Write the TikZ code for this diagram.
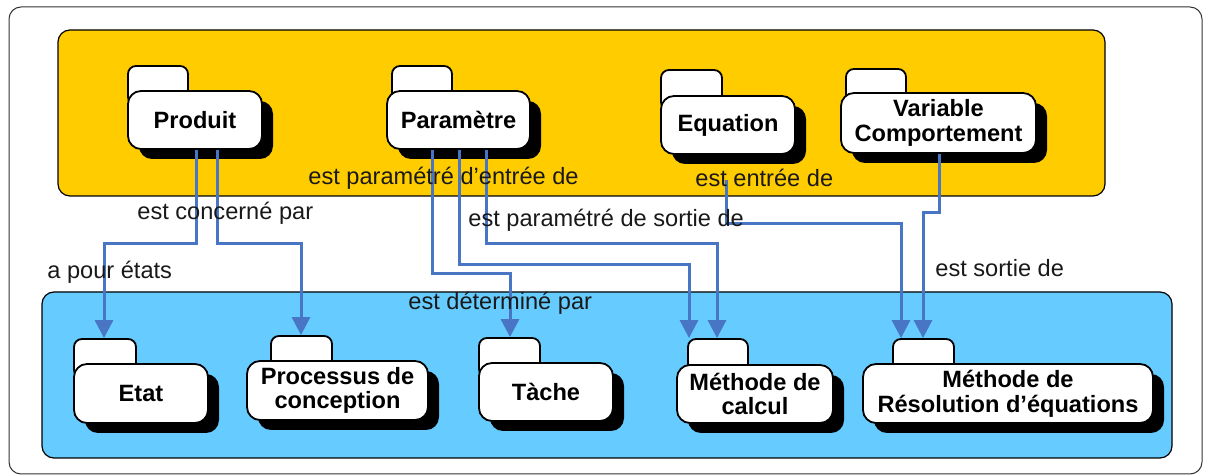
\documentclass[tikz,border=0pt]{standalone}
\usepackage{fontspec}
\setmainfont{Liberation Sans}
\usetikzlibrary{arrows.meta}
\definecolor{ybox}{RGB}{255,204,0}
\definecolor{bbox}{RGB}{102,204,255}
\definecolor{conn}{RGB}{72,118,196}
\tikzset{
  lbl/.style={font=\fontsize{11.8}{13}\selectfont, text=black!90, inner sep=0pt, anchor=west},
  cls/.style={draw=black, line width=0.9pt, fill=white, rounded corners=6.5pt,
    font=\fontsize{11.8}{12.4}\selectfont\bfseries, align=center, inner sep=0pt},
  tabbox/.style={draw=black, line width=0.9pt, fill=white, rounded corners=4pt, inner sep=0pt},
  connector/.style={draw=conn, line width=1.5pt, -{Triangle[width=9pt,length=9pt]}},
  group/.style={draw=black, line width=0.6pt, rounded corners=6pt},
}
% name, x1, y1, x2, y2, tab x1, tab x2, tab top, text
\newcommand\mkclass[9]{%
  \fill[black, rounded corners=6.5pt] ({#2+11},{#3+10}) rectangle ({#4+11},{#5+10});
  \node[tabbox, minimum width={(#7-#6)*0.5pt}, minimum height={(#3+14-#8)*0.5pt}]
    (#1-t) at ({(#6+#7)/2},{(#8+#3+14)/2}) {};
  \node[cls, minimum width={(#4-#2)*0.5pt}, minimum height={(#5-#3)*0.5pt}]
    (#1) at ({(#2+#4)/2},{(#3+#5)/2}) {#9};
}
\begin{document}
\begin{tikzpicture}[x=0.5pt,y=-0.5pt]
\useasboundingbox (0,0) rectangle (1205,475);
% containers
\draw[group, line width=0.5pt, draw=black!80] (9,7) rectangle (1202,474);
\draw[group, fill=ybox] (58,30) rectangle (1105,196);
\draw[group, fill=bbox] (42,292) rectangle (1172,458);
% classes
\mkclass{produit}{128}{91}{262}{149}{128}{188}{66}{Produit}
\mkclass{param}{387}{91}{530}{149}{392}{452}{66}{Paramètre}
\mkclass{equation}{661}{96}{795}{154}{661}{722}{70}{Equation}
\mkclass{varc}{841}{93}{1036}{153}{846}{906}{69}{Variable\\Comportement}
\mkclass{etat}{74}{364}{208}{423}{74}{136}{339}{Etat}
\mkclass{proc}{247}{361}{428}{420}{271}{332}{336}{Processus de\\conception}
\mkclass{tache}{479}{363}{613}{421}{479}{540}{338}{Tàche}
\mkclass{calc}{677}{365}{833}{423}{688}{748}{339}{Méthode de\\calcul}
\mkclass{resol}{863}{364}{1153}{423}{893}{954}{339}{Méthode de\\Résolution d’équations}
\coordinate (eqstart) at (726,180);
% connectors
\draw[connector] (196,0 |- produit.south) -- (196,244) -| (104,0 |- etat-t.north);
\draw[connector] (217,0 |- produit.south) -- (217,244) -| (301,0 |- proc-t.north);
\draw[connector] (432,0 |- param.south) -- (432,274) -| (510,0 |- tache-t.north);
\draw[connector] (459,0 |- param.south) -- (459,265) -| (689,0 |- calc-t.north);
\draw[connector] (486,0 |- param.south) -- (486,244) -| (717,0 |- calc-t.north);
\draw[connector] (eqstart) -- (726,224) -| (901,0 |- resol-t.north);
\draw[connector] (939,0 |- varc.south) -- (939,213) -| (923,0 |- resol-t.north);
% labels
\node[lbl] (lentreeparam) at (308,178) {est paramétré d’entrée de};
\node[lbl] (lconcerne) at (137,213) {est concerné par};
\node[lbl] (letats) at (47,272) {a pour états};
\node[lbl] (lsortieparam) at (468,220) {est paramétré de sortie de};
\node[lbl] (lentree) at (695,178) {est entrée de};
\node[lbl] (ldetermine) at (408,303) {est déterminé par};
\node[lbl] (lsortie) at (935,268) {est sortie de};
\end{tikzpicture}
\end{document}
